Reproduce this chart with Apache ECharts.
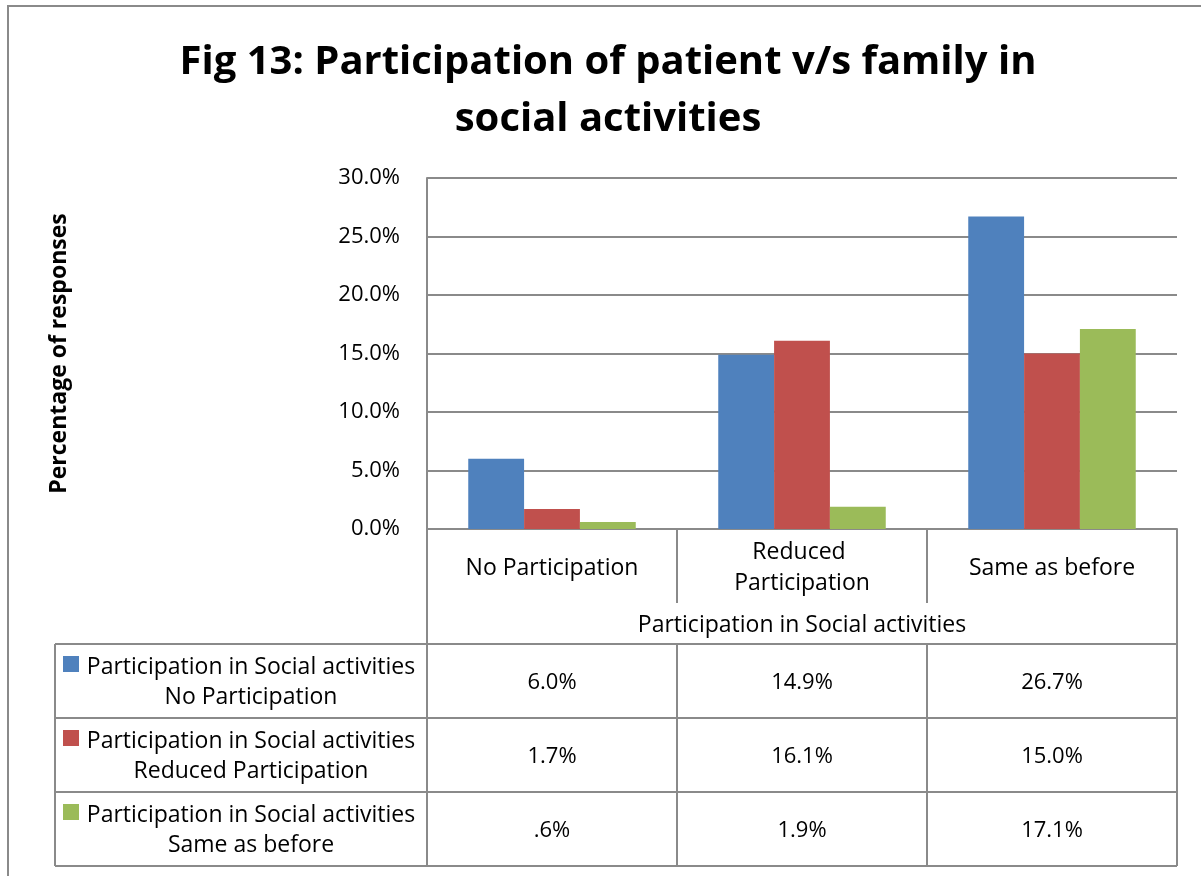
<!DOCTYPE html>
<html>
<head>
<meta charset="utf-8">
<title>Fig 13</title>
<script src="https://cdn.jsdelivr.net/npm/echarts@6/dist/echarts.min.js"></script>
<style>
  html, body { margin: 0; padding: 0; background: #fff; }
  #chart { width: 1201px; height: 876px; }
</style>
</head>
<body>
<div id="chart"></div>
<script>
const categories = ['No Participation', 'Reduced Participation', 'Same as before']
const groupName = 'Participation in Social activities'
const seriesNames = ['No Participation', 'Reduced Participation', 'Same as before']
const noParticipation = [6.0, 14.9, 26.7]
const reducedParticipation = [1.7, 16.1, 15.0]
const sameAsBefore = [0.6, 1.9, 17.1]
const seriesValues = [noParticipation, reducedParticipation, sameAsBefore]
const colors = ['#4F81BD', '#C0504D', '#9BBB59']

const FONT = 'Open Sans'
const FS = 23      // words
const FS_NUM = 22  // numbers
const LINE = '#8a8a8a'
// layout of plot + data table
const plotLeft = 427
const plotRight = 1177
const plotTop = 178
const plotBottom = 529
const tableLeft = 55
const rowTops = [644, 718, 792, 866]

// excel shows values below 1 without the leading zero
const fmtCell = v => {
  const s = v.toFixed(1) + '%'
  return s.startsWith('0.') ? s.slice(1) : s
}

const chart = echarts.init(document.getElementById('chart'))

const buildTable = () => {
  const els = []
  const colW = (plotRight - plotLeft) / categories.length
  const line = (x1, y1, x2, y2) => ({
    type: 'line',
    shape: { x1, y1, x2, y2 },
    style: { stroke: LINE, lineWidth: 2 }
  })
  // horizontal rules
  rowTops.forEach(y => els.push(line(tableLeft, y, plotRight, y)))
  // verticals
  els.push(line(tableLeft, rowTops[0], tableLeft, rowTops[rowTops.length - 1]))
  els.push(line(plotLeft, plotBottom, plotLeft, rowTops[rowTops.length - 1]))
  els.push(line(plotRight, plotBottom, plotRight, rowTops[rowTops.length - 1]))
  for (let i = 1; i < categories.length; i++) {
    const x = plotLeft + colW * i
    els.push(line(x, rowTops[0], x, rowTops[rowTops.length - 1]))
  }
  seriesNames.forEach((name, r) => {
    const top = rowTops[r]
    const h = rowTops[r + 1] - top
    els.push({
      type: 'rect',
      shape: { x: 63, y: top + 12, width: 16, height: 16 },
      style: { fill: colors[r] }
    })
    els.push({
      type: 'text',
      style: {
        text: groupName + '\n' + name,
        x: 251, y: top + h / 2 + 1,
        align: 'center', verticalAlign: 'middle',
        font: FS + 'px ' + FONT, lineHeight: 30, fill: '#000'
      }
    })
    seriesValues[r].forEach((v, c) => {
      els.push({
        type: 'text',
        style: {
          text: fmtCell(v),
          x: plotLeft + colW * (c + 0.5), y: top + h / 2 + 2,
          align: 'center', verticalAlign: 'middle',
          font: FS_NUM + 'px ' + FONT, fill: '#000'
        }
      })
    })
  })
  // outer chart border
  els.push({
    type: 'rect',
    shape: { x: 8, y: 6, width: 1210, height: 890 },
    style: { fill: 'none', stroke: LINE, lineWidth: 2 }
  })
  return els
}

const option = {
  backgroundColor: '#fff',
  animation: false,
  textStyle: { fontFamily: FONT },
  title: {
    text: 'Fig 13: Participation of patient v/s family in\nsocial activities',
    left: 603,
    top: 29,
    textAlign: 'center',
    textStyle: {
      fontFamily: FONT,
      fontSize: 40,
      fontWeight: 'bold',
      lineHeight: 57,
      color: '#000'
    }
  },
  grid: {
    left: plotLeft,
    right: 1201 - plotRight,
    top: plotTop,
    bottom: 876 - plotBottom,
    containLabel: false
  },
  xAxis: {
    type: 'category',
    data: categories,
    name: groupName,
    nameLocation: 'middle',
    nameGap: 96,
    nameTextStyle: { fontSize: FS, color: '#000', verticalAlign: 'middle' },
    axisLine: { lineStyle: { color: LINE, width: 2 } },
    axisTick: {
      show: true,
      interval: 0,
      length: 74,
      lineStyle: { color: LINE, width: 2 }
    },
    axisLabel: {
      interval: 0,
      margin: 39,
      fontSize: FS,
      color: '#000',
      width: 185,
      overflow: 'break',
      lineHeight: 31,
      verticalAlign: 'middle'
    }
  },
  yAxis: {
    type: 'value',
    min: 0,
    max: 30,
    interval: 5,
    name: 'Percentage of responses',
    nameLocation: 'middle',
    nameRotate: 90,
    nameGap: 356,
    nameTextStyle: { fontSize: 23, fontWeight: 'bold', color: '#000' },
    axisLine: { show: true, lineStyle: { color: LINE, width: 2 } },
    axisTick: { show: false },
    axisLabel: {
      margin: 27,
      fontSize: FS_NUM,
      color: '#000',
      formatter: v => v.toFixed(1) + '%'
    },
    splitLine: { lineStyle: { color: LINE, width: 2 } }
  },
  series: seriesNames.map((name, i) => ({
    name,
    type: 'bar',
    data: seriesValues[i],
    barGap: '0%',
    barCategoryGap: '33%',
    itemStyle: { color: colors[i] }
  })),
  graphic: buildTable()
}

chart.setOption(option)
</script>
</body>
</html>
